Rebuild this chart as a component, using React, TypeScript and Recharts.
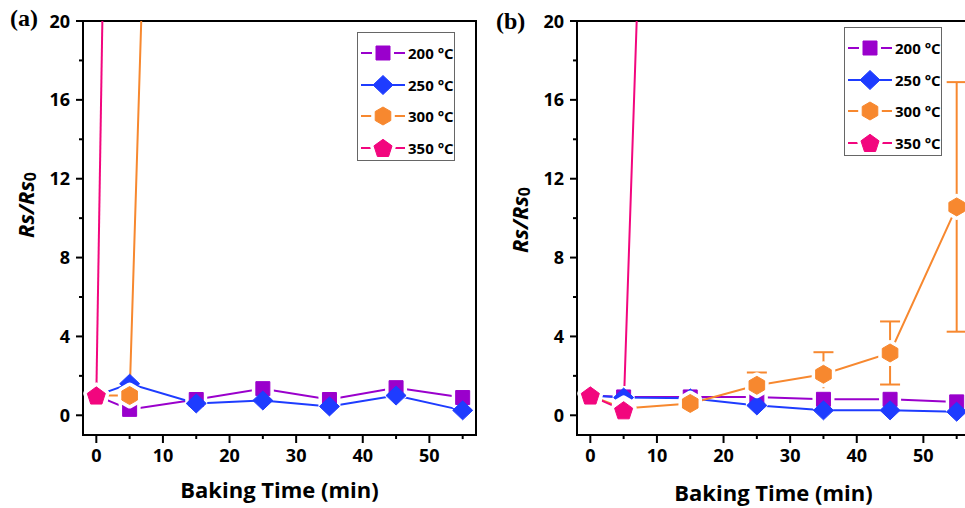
import React from "react";
import { ComposedChart, Line, XAxis, YAxis, ErrorBar, ReferenceArea } from "recharts";

const times = [0, 5, 15, 25, 35, 45, 55];
const xTicks = [0, 5, 10, 15, 20, 25, 30, 35, 40, 45, 50, 55];
const yTicks = [0, 2, 4, 6, 8, 10, 12, 14, 16, 18, 20];
const seriesNames = ["200 °C", "250 °C", "300 °C", "350 °C"];

// panel (a) — 300/350 °C shoot off the top of the axis
const a200 = [1.0, 0.3, 0.8, 1.35, 0.8, 1.4, 0.9];
const a250 = [1.0, 1.6, 0.6, 0.75, 0.45, 1.0, 0.25];
const a300 = [1.0, 1.0, 110, null, null, null, null];
const a350 = [1.0, 106, null, null, null, null, null];

// panel (b)
const b200 = [1.0, 0.93, 0.93, 0.93, 0.81, 0.81, 0.68];
const b250 = [1.0, 0.9, 0.86, 0.5, 0.25, 0.25, 0.18];
const b300 = [1.0, 0.35, 0.6, 1.52, 2.08, 3.16, 10.57];
const b300Err = [null, null, null, 0.65, 1.12, 1.6, 6.33];
const b350 = [1.0, 0.25, 101, null, null, null, null];

const SERIES = [
  { key: "s200", color: "#9A00CC", shape: "square", gap: true },
  { key: "s250", color: "#1E3CFF", shape: "diamond", gap: false },
  { key: "s300", color: "#F7882F", shape: "hexagon", gap: true },
  { key: "s350", color: "#F2067E", shape: "pentagon", gap: true },
];

const dataA = times.map((t, i) => ({ t, s200: a200[i], s250: a250[i], s300: a300[i], s350: a350[i] }));
const dataB = times.map((t, i) => ({
  t,
  s200: b200[i],
  s250: b250[i],
  s300: b300[i],
  e300: b300Err[i],
  s350: b350[i],
}));

const FONT = "'Open Sans', 'DejaVu Sans', sans-serif";
const PLOT_LEFT = 83;
const PLOT_W = 393;

function polyPts(cx: number, cy: number, r: number, n: number, start: number) {
  const pts: string[] = [];
  for (let k = 0; k < n; k++) {
    const a = ((start + (360 / n) * k) * Math.PI) / 180;
    pts.push(`${cx + r * Math.cos(a)},${cy + r * Math.sin(a)}`);
  }
  return pts.join(" ");
}

function shapePoints(shape: string, cx: number, cy: number) {
  switch (shape) {
    case "square":
      return `${cx - 7},${cy - 7} ${cx + 7},${cy - 7} ${cx + 7},${cy + 7} ${cx - 7},${cy + 7}`;
    case "diamond":
      return `${cx},${cy - 9.5} ${cx + 10},${cy} ${cx},${cy + 9.5} ${cx - 10},${cy}`;
    case "hexagon":
      return polyPts(cx, cy, 9, 6, -90);
    default:
      return polyPts(cx, cy + 0.8, 9.5, 5, -90);
  }
}

function Marker({ cx, cy, shape, color, gap }: any) {
  const pts = shapePoints(shape, cx, cy);
  return (
    <g>
      {gap && <polygon points={pts} fill="#fff" stroke="#fff" strokeWidth={8} strokeLinejoin="round" />}
      <polygon points={pts} fill={color} stroke={color} strokeWidth={1} />
    </g>
  );
}

function XTick({ x, y, payload }: any) {
  const major = payload.value % 10 === 0;
  return (
    <g>
      <line x1={x} x2={x} y1={y} y2={y + (major ? 8 : 4)} stroke="#000" strokeWidth={2} />
      {major && (
        <text x={x} y={y + 27} textAnchor="middle" fontFamily={FONT} fontWeight={700} fontSize={18} fill="#000">
          {payload.value}
        </text>
      )}
    </g>
  );
}

function YTick({ x, y, payload }: any) {
  const major = payload.value % 4 === 0;
  return (
    <g>
      <line x1={x} x2={x - (major ? 7 : 4)} y1={y} y2={y} stroke="#000" strokeWidth={2} />
      {major && (
        <text x={x - 13} y={y + 6.5} textAnchor="end" fontFamily={FONT} fontWeight={700} fontSize={18} fill="#000">
          {payload.value}
        </text>
      )}
    </g>
  );
}

function LegendBox({ left, top }: { left: number; top: number }) {
  return (
    <div
      style={{
        position: "absolute",
        left,
        top,
        width: 98,
        height: 129,
        boxSizing: "border-box",
        border: "1.5px solid #666",
        background: "#fff",
      }}
    >
      {SERIES.map((s, i) => (
        <div key={s.key} style={{ position: "absolute", left: 2, top: 9 + i * 31.7, height: 22, display: "flex", alignItems: "center" }}>
          <svg width={46} height={22}>
            <line x1={1} x2={45} y1={11} y2={11} stroke={s.color} strokeWidth={2} />
            <Marker cx={23} cy={11} shape={s.shape} color={s.color} gap={s.gap} />
          </svg>
          <span style={{ fontFamily: FONT, fontWeight: 700, fontSize: 15, color: "#000", marginLeft: 2, whiteSpace: "nowrap" }}>
            {seriesNames[i]}
          </span>
        </div>
      ))}
    </div>
  );
}

function Panel({ data, left, yLabelY, xLabelY }: { data: any[]; left: number; yLabelY: number; xLabelY: number }) {
  return (
    <div style={{ position: "absolute", left, top: 0 }}>
      <ComposedChart width={490} height={508} data={data} margin={{ top: 21, right: 14, bottom: 0, left: 0 }}>
        <ReferenceArea x1={-2} x2={57} y1={-1} y2={20} fill="none" stroke="#000" strokeWidth={2} />
        <XAxis
          type="number"
          dataKey="t"
          domain={[-2, 57]}
          ticks={xTicks}
          interval={0}
          allowDataOverflow
          height={73}
          tickSize={0}
          tickMargin={0}
          tickLine={false}
          axisLine={{ stroke: "#000", strokeWidth: 2 }}
          tick={<XTick />}
          label={{
            content: () => (
              <text
                x={PLOT_LEFT + PLOT_W / 2}
                y={xLabelY}
                textAnchor="middle"
                fontFamily={FONT}
                fontWeight={700}
                fontSize={22}
                fill="#000"
              >
                Baking Time (min)
              </text>
            ),
          }}
        />
        <YAxis
          type="number"
          domain={[-1, 20]}
          ticks={yTicks}
          interval={0}
          allowDataOverflow
          width={83}
          tickSize={0}
          tickMargin={0}
          tickLine={false}
          axisLine={{ stroke: "#000", strokeWidth: 2 }}
          tick={<YTick />}
          label={{
            content: () => (
              <text
                x={25}
                y={yLabelY}
                transform={`rotate(-90, 25, ${yLabelY})`}
                textAnchor="middle"
                dominantBaseline="central"
                fontFamily={FONT}
                fontWeight={700}
                fontSize={22}
                fill="#000"
              >
                <tspan fontStyle="italic">Rs/Rs</tspan>
                <tspan fontSize={16} dy={5}>0</tspan>
              </text>
            ),
          }}
        />
        {SERIES.map((s) => (
          <Line
            key={s.key}
            type="linear"
            dataKey={s.key}
            stroke={s.color}
            strokeWidth={2}
            activeDot={false}
            isAnimationActive={false}
            dot={(p: any) =>
              p.cx == null || p.cy == null ? (
                <g key={p.index} />
              ) : (
                <Marker key={p.index} cx={p.cx} cy={p.cy} shape={s.shape} color={s.color} gap={s.gap} />
              )
            }
          >
            {s.key === "s300" && data[0].e300 !== undefined && (
              <ErrorBar dataKey="e300" width={10} stroke={s.color} strokeWidth={2} direction="y" isAnimationActive={false} />
            )}
          </Line>
        ))}
      </ComposedChart>
    </div>
  );
}

export default function App() {
  return (
    <div
      style={{
        position: "fixed",
        left: 0,
        top: 0,
        width: 965,
        height: 508,
        overflow: "hidden",
        background: "#fff",
      }}
    >
      <Panel data={dataA} left={0} yLabelY={205} xLabelY={498} />
      <Panel data={dataB} left={494} yLabelY={220} xLabelY={501} />
      <LegendBox left={357} top={32} />
      <LegendBox left={844} top={27} />
      <div style={{ position: "absolute", left: 10, top: 5, fontFamily: "'Liberation Serif', serif", fontWeight: 700, fontSize: 24 }}>
        (a)
      </div>
      <div style={{ position: "absolute", left: 496, top: 8, fontFamily: "'Liberation Serif', serif", fontWeight: 700, fontSize: 24 }}>
        (b)
      </div>
    </div>
  );
}
